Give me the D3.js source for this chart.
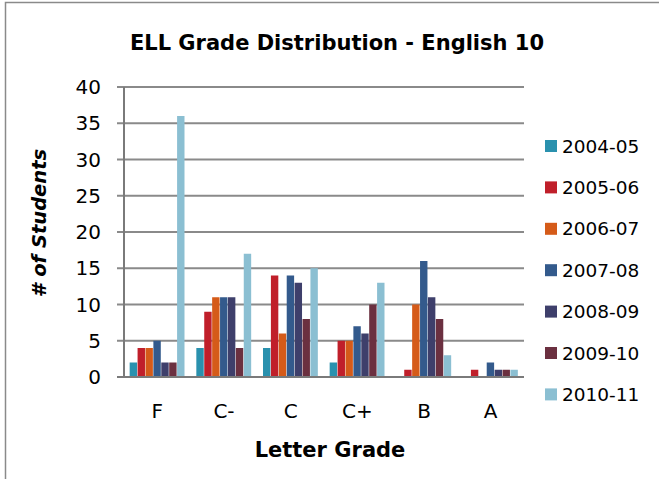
<!DOCTYPE html>
<html>
<head>
<meta charset="utf-8">
<script src="https://cdn.jsdelivr.net/npm/d3@7"></script>
<style>
body { margin: 0; background: #fff; }
svg text { font-family: "DejaVu Sans", sans-serif; fill: #000; }
</style>
</head>
<body>
<script>
// grades along the x axis
var grades = ["F", "C-", "C", "C+", "B", "A"];
// school years (series)
var years = ["2004-05", "2005-06", "2006-07", "2007-08", "2008-09", "2009-10", "2010-11"];
var colors = ["#2a91ae", "#c01f2a", "#d55b19", "#335a8c", "#3e3f6b", "#6b3040", "#8bbfd2"];
// counts per year, one value per grade
var y2004 = [2, 4, 4, 2, 0, 0];
var y2005 = [4, 9, 14, 5, 1, 1];
var y2006 = [4, 11, 6, 5, 10, 0];
var y2007 = [5, 11, 14, 7, 16, 2];
var y2008 = [2, 11, 13, 6, 11, 1];
var y2009 = [2, 4, 8, 10, 8, 1];
var y2010 = [36, 17, 15, 13, 3, 1];
var yTicks = [0, 5, 10, 15, 20, 25, 30, 35, 40];

var series = [y2004, y2005, y2006, y2007, y2008, y2009, y2010];

var width = 659, height = 479;
var svg = d3.select("body").append("svg")
	.attr("width", width)
	.attr("height", height);

// chart border
svg.append("rect")
	.attr("x", 5.5).attr("y", 2.5)
	.attr("width", 700).attr("height", 500)
	.attr("fill", "none")
	.attr("stroke", "#8a8a8a")
	.attr("stroke-width", 1.5);

var plotL = 124, plotR = 524, plotT = 87, plotB = 377;

var x = d3.scaleBand().domain(grades).range([plotL, plotR]).paddingInner(0.17).paddingOuter(0.085);
var xs = d3.scaleBand().domain(d3.range(years.length)).range([0, x.bandwidth()]);
var y = d3.scaleLinear().domain([0, 40]).range([plotB, plotT]);

// gridlines
svg.append("g").selectAll("line")
	.data(yTicks)
	.enter().append("line")
	.attr("x1", plotL - 7).attr("x2", plotR)
	.attr("y1", function(d) { return y(d); })
	.attr("y2", function(d) { return y(d); })
	.attr("stroke", "#8a8a8a")
	.attr("stroke-width", 2);

// bars
var groups = svg.append("g").selectAll("g")
	.data(series)
	.enter().append("g")
	.attr("fill", function(d, i) { return colors[i]; });

groups.selectAll("rect")
	.data(function(d, i) { return d.map(function(v, j) { return {v: v, g: grades[j], s: i}; }); })
	.enter().append("rect")
	.filter(function(d) { return d.v > 0; })
	.attr("x", function(d) { return x(d.g) + xs(d.s); })
	.attr("width", xs.bandwidth() - 0.5)
	.attr("y", function(d) { return y(d.v); })
	.attr("height", function(d) { return plotB - y(d.v); });

// axis lines
svg.append("line")
	.attr("x1", plotL).attr("x2", plotL).attr("y1", plotT).attr("y2", plotB)
	.attr("stroke", "#7a7a7a").attr("stroke-width", 2);
svg.append("line")
	.attr("x1", plotL - 7).attr("x2", plotR).attr("y1", plotB).attr("y2", plotB)
	.attr("stroke", "#7a7a7a").attr("stroke-width", 2);

// y tick labels
svg.append("g").selectAll("text")
	.data(yTicks)
	.enter().append("text")
	.attr("x", 101)
	.attr("y", function(d) { return y(d); })
	.attr("dy", "0.36em")
	.attr("text-anchor", "end")
	.style("font-size", "20px")
	.text(function(d) { return d; });

// x tick labels
svg.append("g").selectAll("text")
	.data(grades)
	.enter().append("text")
	.attr("x", function(d) { return x(d) + x.bandwidth() / 2; })
	.attr("y", 418)
	.attr("text-anchor", "middle")
	.style("font-size", "20px")
	.text(function(d) { return d; });

// titles
svg.append("text")
	.attr("x", 337).attr("y", 50)
	.attr("text-anchor", "middle")
	.style("font-size", "21px").style("font-weight", "bold")
	.text("ELL Grade Distribution - English 10");

svg.append("text")
	.attr("x", 330).attr("y", 457)
	.attr("text-anchor", "middle")
	.style("font-size", "21px").style("font-weight", "bold")
	.text("Letter Grade");

svg.append("text")
	.attr("transform", "translate(46,223) rotate(-90)")
	.attr("text-anchor", "middle")
	.style("font-size", "19.5px").style("font-weight", "bold").style("font-style", "italic")
	.text("# of Students");

// legend
var legend = svg.append("g").selectAll("g")
	.data(years)
	.enter().append("g")
	.attr("transform", function(d, i) { return "translate(545," + (146 + i * 41.4) + ")"; });
legend.append("rect")
	.attr("x", 0).attr("y", -6)
	.attr("width", 12).attr("height", 12)
	.attr("fill", function(d, i) { return colors[i]; });
legend.append("text")
	.attr("x", 17).attr("dy", "0.36em")
	.style("font-size", "18.5px")
	.text(function(d) { return d; });
</script>
</body>
</html>
